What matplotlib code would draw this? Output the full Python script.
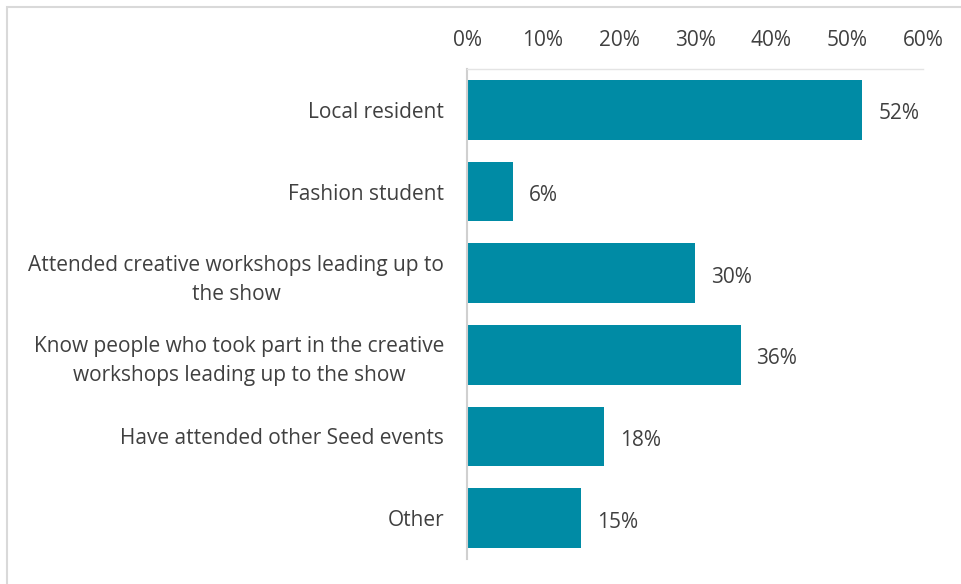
import matplotlib.pyplot as plt
from matplotlib.patches import Rectangle
from matplotlib.ticker import PercentFormatter

categories = [
    "Local resident",
    "Fashion student",
    "Attended creative workshops leading up to\nthe show",
    "Know people who took part in the creative\nworkshops leading up to the show",
    "Have attended other Seed events",
    "Other",
]
shares = [52, 6, 30, 36, 18, 15]
xticks = [0, 10, 20, 30, 40, 50, 60]

bar_color = "#008BA5"
text_color = "#404040"
fsize = 15

plt.rcParams['font.family'] = ['Open Sans', 'DejaVu Sans']

fig = plt.figure(figsize=(9.61, 5.84), dpi=100)
ax = fig.add_axes([467 / 961, 1 - 559 / 584, 456 / 961, 490 / 584])

ypos = list(range(len(categories)))
ax.barh(ypos, shares, height=0.73, color=bar_color)
ax.set_ylim(len(categories) - 0.5, -0.5)
ax.set_xlim(0, 60)

ax.xaxis.tick_top()
ax.set_xticks(xticks)
ax.xaxis.set_major_formatter(PercentFormatter(decimals=0))
ax.tick_params(axis='x', length=0, pad=13, labelsize=fsize, labelcolor=text_color)

ax.set_yticks(ypos)
ax.set_yticklabels(categories, multialignment='center', linespacing=1.5)
ax.tick_params(axis='y', length=0, pad=16.5, labelsize=fsize, labelcolor=text_color)

for side in ['right', 'bottom']:
    ax.spines[side].set_visible(False)
ax.spines['left'].set_color('#d0d0d0')
ax.spines['left'].set_linewidth(1.5)
ax.spines['top'].set_color('#e4e4e4')
ax.spines['top'].set_linewidth(1.0)

for y, v in zip(ypos, shares):
    ax.text(v + 2.1, y + 0.05, f"{v}%", va='center', ha='left',
            fontsize=fsize, color=text_color)

# light frame around the chart area
fig.patches.append(Rectangle((7 / 961, -0.1), 1.2, 1 - 7 / 584 + 0.1,
                             transform=fig.transFigure, fill=False,
                             edgecolor='#d9d9d9', linewidth=1.5))

fig.savefig("out.png", dpi=100)
